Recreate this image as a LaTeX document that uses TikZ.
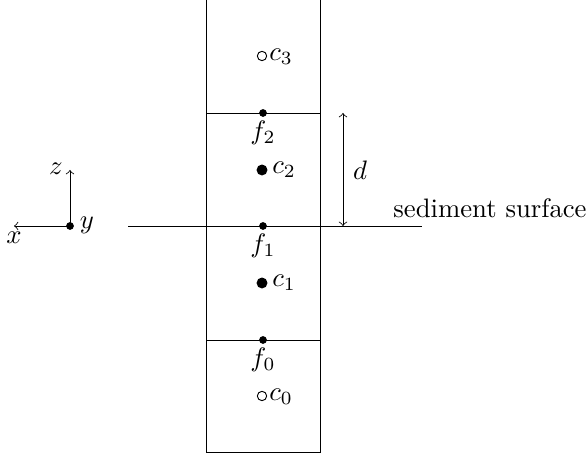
\documentclass[tikz,border=0pt]{standalone}
\begin{document}
\begin{tikzpicture}[x=0.3745pt,y=-0.3745pt,line width=0.3pt,
  fdot/.style={circle,fill=black,inner sep=0pt,minimum size=2.9pt},
  cfull/.style={circle,fill=black,inner sep=0pt,minimum size=4.1pt},
  copen/.style={circle,draw=black,line width=0.35pt,inner sep=0pt,minimum size=3.5pt},
  lbl/.style={inner sep=0pt}]
\useasboundingbox (0,0) rectangle (587,459);
% column
\coordinate (tl) at (206,0);
\coordinate (tr) at (320,0);
\coordinate (bl) at (206,452);
\coordinate (br) at (320,452);
\draw (tl) -- (bl) -- (br) -- (tr);
\coordinate (l2) at (206,113); \coordinate (r2) at (320,113);
\coordinate (l0) at (206,340); \coordinate (r0) at (320,340);
\draw (l2) -- (r2);
\draw (l0) -- (r0);
% sediment surface
\coordinate (sl) at (128,226); \coordinate (sr) at (422,226);
\draw (sl) -- (sr);
\node[lbl,anchor=base west] (sedlbl) at (393,218) {sediment surface};
% face dots
\node[fdot] (f2) at (263,113) {};
\node[fdot] (f1) at (263,226) {};
\node[fdot] (f0) at (263,340) {};
\node[lbl] (f2l) at (263,133) {$f_2$};
\node[lbl] (f1l) at (263,246) {$f_1$};
\node[lbl] (f0l) at (263,360) {$f_0$};
% cells
\node[copen] (c3) at (262,56) {};
\node[cfull] (c2) at (262,170) {};
\node[cfull] (c1) at (262,283) {};
\node[copen] (c0) at (262,396) {};
\node[lbl,anchor=west] (c3l) at (269,57) {$c_3$};
\node[lbl,anchor=west] (c2l) at (272,170) {$c_2$};
\node[lbl,anchor=west] (c1l) at (272,283) {$c_1$};
\node[lbl,anchor=west] (c0l) at (269,397) {$c_0$};
% d arrow
\coordinate (dt) at (343,113); \coordinate (db) at (343,226);
\draw[<->] (dt) -- (db);
\node[lbl] (dl) at (360,170) {$d$};
% axes
\node[fdot] (o) at (70,226) {};
\coordinate (xe) at (14,226);
\coordinate (ze) at (70,170);
\draw[->] (o.center) -- (xe);
\draw[->] (o.center) -- (ze);
\node[lbl] (xl) at (14,238) {$x$};
\node[lbl] (zl) at (56,169) {$z$};
\node[lbl] (yl) at (87,225) {$y$};
\end{tikzpicture}
\end{document}
